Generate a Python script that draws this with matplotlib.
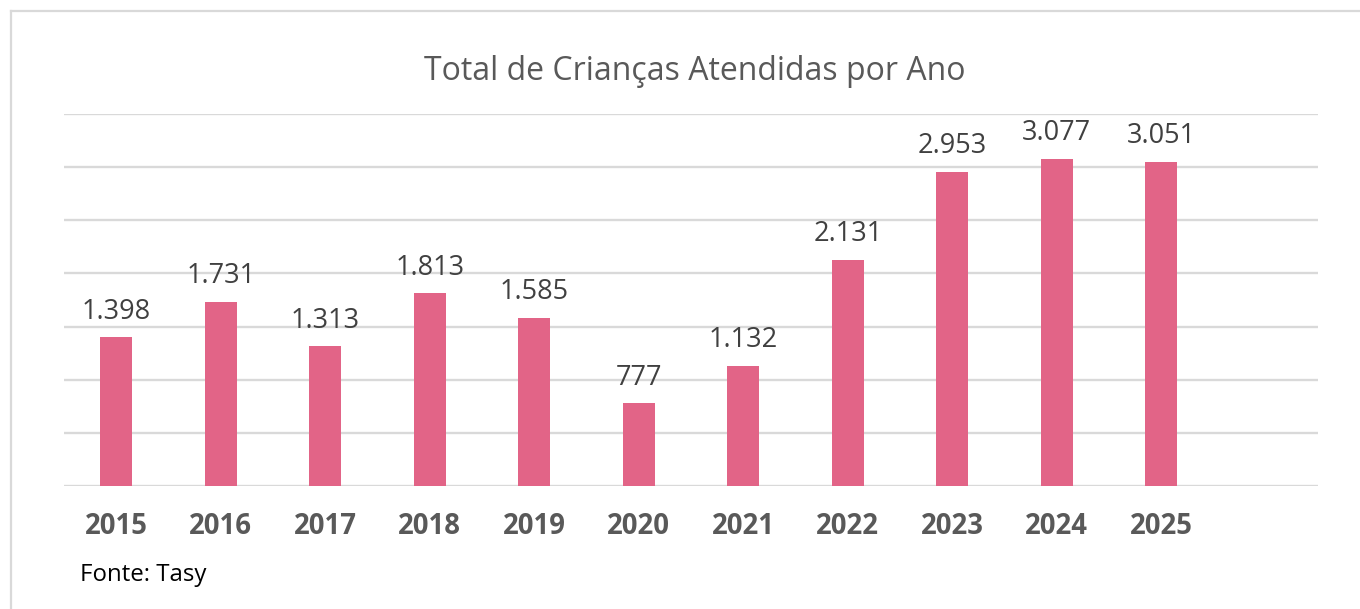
import matplotlib
matplotlib.use("Agg")
import matplotlib.pyplot as plt
from matplotlib.lines import Line2D

plt.rcParams['font.family'] = ['Open Sans', 'DejaVu Sans']

# dados
anos = ['2015', '2016', '2017', '2018', '2019', '2020', '2021', '2022', '2023', '2024', '2025']
totais = [1398, 1731, 1313, 1813, 1585, 777, 1132, 2131, 2953, 3077, 3051]
rotulos = ['1.398', '1.731', '1.313', '1.813', '1.585', '777', '1.132', '2.131', '2.953', '3.077', '3.051']

cor_barra = '#E26487'
cor_grade = '#D9D9D9'

W, H = 1360, 609
fig = plt.figure(figsize=(W / 100, H / 100), dpi=100)
ax = fig.add_axes([64 / W, 1 - 486 / H, (1318 - 64) / W, (486 - 114) / H])

x = list(range(len(anos)))
ax.bar(x, totais, width=0.31, color=cor_barra, zorder=3)
for xi, v, r in zip(x, totais, rotulos):
    ax.text(xi, v + 110, r, ha='center', va='bottom', fontsize=19.5, color='#404040')

ax.set_xlim(-0.5, 11.5)
ax.set_ylim(0, 3500)
ax.set_yticks(range(0, 3501, 500))
ax.yaxis.grid(True, color=cor_grade, linewidth=1.7, zorder=0)
ax.tick_params(axis='y', left=False, labelleft=False)
ax.set_xticks(x)
ax.set_xticklabels(anos, fontsize=19.8, fontweight='bold', color='#595959')
ax.tick_params(axis='x', length=0, pad=18.5)
for s in ax.spines.values():
    s.set_visible(False)

fig.text(695 / W, 1 - 71 / H, 'Total de Crianças Atendidas por Ano', ha='center', va='center',
         fontsize=23, color='#595959')
fig.text(80 / W, 1 - 575 / H, 'Fonte: Tasy', ha='left', va='center', fontsize=17.3, color='black')

# moldura
fig.add_artist(Line2D([10.5 / W, 10.5 / W], [0, 1 - 11 / H], color=cor_grade, linewidth=1.6))
fig.add_artist(Line2D([10.5 / W, 1], [1 - 11 / H, 1 - 11 / H], color=cor_grade, linewidth=1.6))

fig.savefig('out.png', dpi=100)
